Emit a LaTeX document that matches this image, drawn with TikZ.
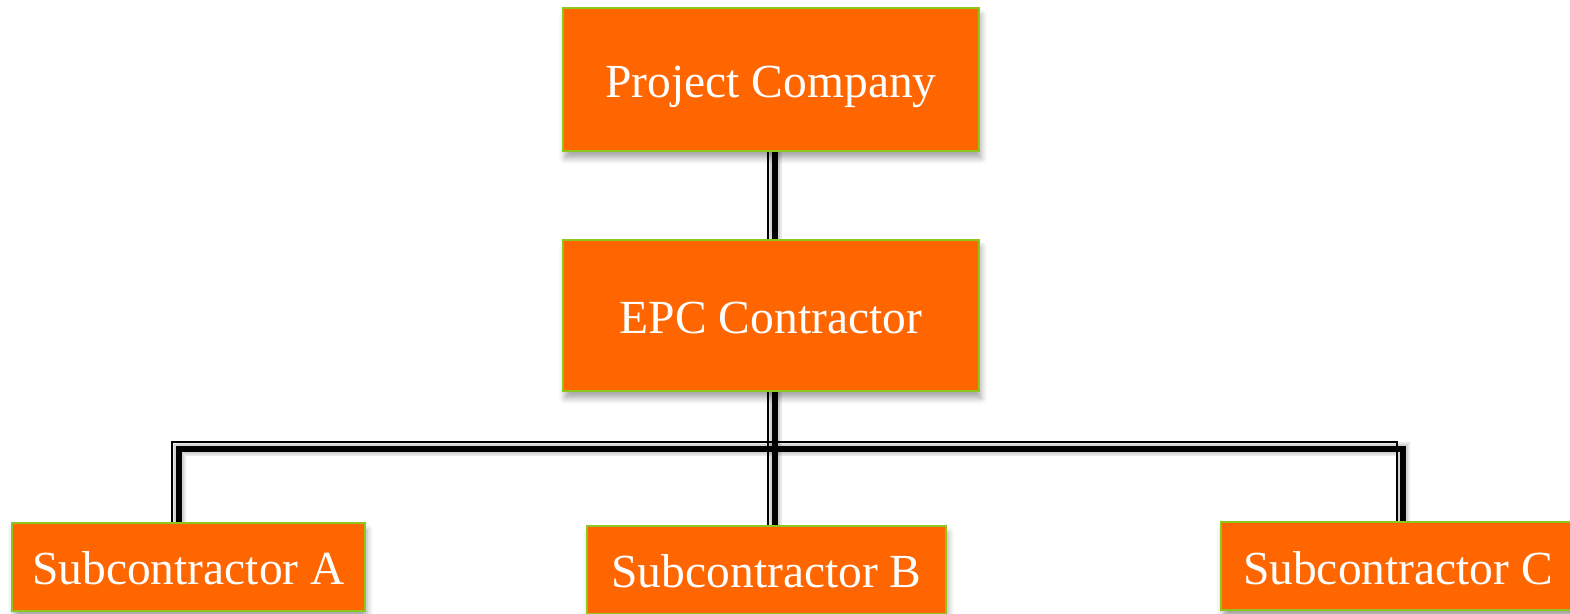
\documentclass[tikz,border=0pt]{standalone}
\usepackage{fontspec}
\setmainfont{Liberation Serif}
\usetikzlibrary{shadows.blur}
\definecolor{boxfill}{RGB}{255,102,0}
\definecolor{boxline}{RGB}{140,198,30}
\pgfdeclarelayer{background}
\pgfsetlayers{background,main}
\begin{document}
\begin{tikzpicture}[x=0.5pt,y=-0.5pt,
  orgbox/.style={draw=boxline, line width=1pt, fill=boxfill, text=white,
    font=\fontsize{23.75}{28}\selectfont, inner sep=0pt,
    text height=18pt, text depth=0pt,
    blur shadow={shadow xshift=1pt, shadow yshift=-3.5pt, shadow blur radius=3pt, shadow opacity=35}},
  thickline/.style={line width=3pt, black, line cap=butt},
  thinline/.style={line width=0.7pt, black},
  lineshadow/.style={line width=#1, black, opacity=0.09, xshift=1.5pt, yshift=-3pt}]
\useasboundingbox (0,0) rectangle (1570,614);

\node[orgbox, minimum width=208pt, minimum height=71.5pt] (pc) at (771,79.5) {Project Company};
\node[orgbox, minimum width=208pt, minimum height=75.5pt] (epc) at (771,315.5) {EPC Contractor};
\node[orgbox, minimum width=176.5pt, minimum height=44pt] (subA) at (188.5,567) {Subcontractor A};
\node[orgbox, minimum width=179.5pt, minimum height=44pt] (subB) at (766.5,570) {Subcontractor B};
\node[orgbox, minimum width=177pt, minimum height=44pt] (subC) at (1398,566.5) {Subcontractor C};

\begin{pgfonlayer}{background}
  % soft shadows of the connectors
  \foreach \w in {3pt,5pt,7pt}{
    \draw[lineshadow=\w] ([xshift=2pt]pc.south) -- ([xshift=2pt]epc.north);
    \draw[lineshadow=\w] ([xshift=2pt]epc.south) -- ([xshift=2pt]epc.south |- subB.north);
    \draw[lineshadow=\w] ([xshift=-4.75pt]subA.north) -- ++(0,-73) -| ([xshift=2.5pt]subC.north);
  }
  % thick strokes
  \draw[thickline] ([xshift=2pt]pc.south) -- ([xshift=2pt]epc.north);
  \draw[thickline] ([xshift=2pt]epc.south) -- ([xshift=2pt]epc.south |- subB.north);
  \draw[thickline] ([xshift=-4.75pt]subA.north) -- ++(0,-73) -| ([xshift=2.5pt]subC.north);
  % thin companion strokes
  \draw[thinline] ([xshift=-1.5pt]pc.south) -- ([xshift=-1.5pt]epc.north);
  \draw[thinline] ([xshift=-1.5pt]epc.south) -- ([xshift=-1.5pt]epc.south |- subB.north);
  \draw[thinline] ([xshift=-8.25pt]subA.north) -- ++(0,-80) -| ([xshift=-0.5pt]subC.north);
\end{pgfonlayer}
\end{tikzpicture}
\end{document}
